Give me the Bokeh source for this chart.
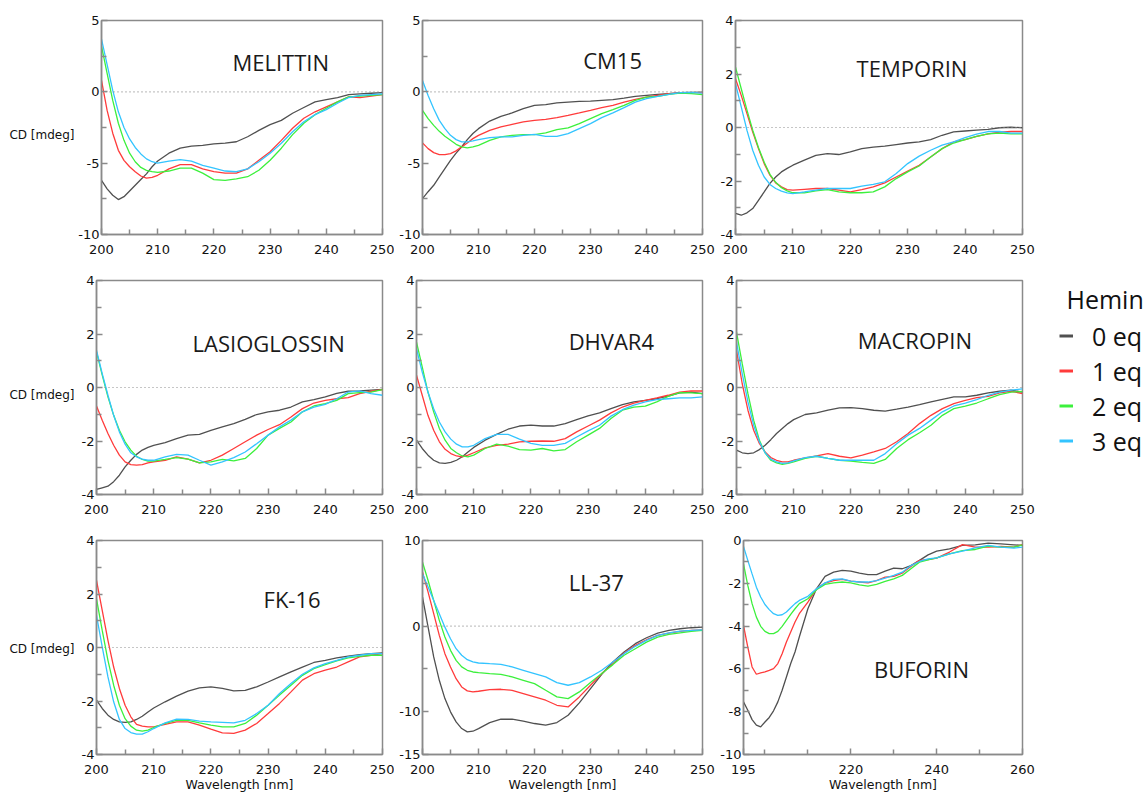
from bokeh.plotting import figure
from bokeh.models import FixedTicker, Span, Label, Legend, LegendItem, Range1d
from bokeh.layouts import row, column
from bokeh.embed import file_html
from bokeh.resources import INLINE

# ---------------- data ----------------
WL = [200, 201, 202, 203, 204, 205, 206, 207, 208, 209, 210, 212, 214, 216, 218, 220,
      222, 224, 226, 228, 230, 232, 234, 236, 238, 240, 242, 244, 246, 248, 250]
BUF_WL = [195, 196, 197, 198, 199, 200, 201, 202, 203, 204, 205, 206, 207, 208, 210, 212,
          214, 216, 218, 220, 222, 224, 226, 228, 230, 232, 234, 236, 238, 240, 243, 246,
          249, 252, 255, 258, 260]

HEMIN = ["0 eq", "1 eq", "2 eq", "3 eq"]

MEL_0 = [-6.2, -6.8, -7.25, -7.55, -7.35, -6.95, -6.55, -6.15, -5.75, -5.25, -4.85, -4.3, -3.95, -3.8, -3.75, -3.65,
         -3.6, -3.5, -3.15, -2.7, -2.3, -2.0, -1.5, -1.1, -0.7, -0.55, -0.4, -0.2, -0.15, -0.1, -0.05]
MEL_1 = [0.8, -1.3, -2.9, -4.1, -4.8, -5.25, -5.6, -5.9, -6.05, -6.0, -5.85, -5.4, -5.1, -5.1, -5.4, -5.6,
         -5.7, -5.7, -5.4, -4.8, -4.2, -3.4, -2.55, -1.85, -1.4, -1.05, -0.7, -0.35, -0.4, -0.3, -0.2]
MEL_2 = [3.2, 1.3, -0.6, -2.2, -3.4, -4.3, -4.9, -5.3, -5.5, -5.6, -5.65, -5.55, -5.35, -5.35, -5.7, -6.15,
         -6.2, -6.1, -5.95, -5.5, -4.8, -3.95, -3.0, -2.2, -1.6, -1.15, -0.7, -0.35, -0.3, -0.25, -0.2]
MEL_3 = [3.7, 1.9, 0.1, -1.4, -2.5, -3.3, -3.9, -4.35, -4.7, -4.9, -5.0, -4.85, -4.75, -4.85, -5.15, -5.35,
         -5.55, -5.6, -5.4, -4.9, -4.3, -3.6, -2.8, -2.1, -1.6, -1.25, -0.8, -0.4, -0.25, -0.2, -0.15]

CM_0 = [-7.48, -7.0, -6.55, -5.96, -5.38, -4.8, -4.3, -3.85, -3.35, -2.92, -2.58, -2.05, -1.72, -1.48, -1.18, -0.95,
        -0.9, -0.78, -0.72, -0.67, -0.65, -0.6, -0.55, -0.44, -0.32, -0.25, -0.18, -0.13, -0.06, -0.04, -0.02]
CM_1 = [-3.58, -3.98, -4.26, -4.4, -4.4, -4.33, -4.14, -3.86, -3.58, -3.28, -3.05, -2.7, -2.46, -2.28, -2.11, -2.0,
        -1.93, -1.81, -1.65, -1.48, -1.3, -1.11, -0.95, -0.72, -0.53, -0.37, -0.25, -0.13, -0.09, -0.06, -0.06]
CM_2 = [-1.3, -1.88, -2.35, -2.77, -3.12, -3.4, -3.68, -3.86, -3.93, -3.86, -3.75, -3.4, -3.16, -3.05, -3.0, -3.0,
        -2.88, -2.65, -2.53, -2.23, -1.88, -1.53, -1.25, -0.95, -0.6, -0.37, -0.32, -0.18, -0.09, -0.13, -0.2]
CM_3 = [0.8, -0.25, -1.18, -2.0, -2.58, -3.05, -3.35, -3.51, -3.51, -3.44, -3.35, -3.21, -3.16, -3.16, -3.05, -2.98,
        -3.12, -3.12, -2.93, -2.58, -2.23, -1.81, -1.48, -1.11, -0.72, -0.48, -0.32, -0.18, -0.06, -0.04, -0.09]

TEM_0 = [-3.21, -3.28, -3.19, -3.03, -2.72, -2.41, -2.09, -1.85, -1.66, -1.53, -1.41, -1.22, -1.04, -0.98, -1.01, -0.91,
         -0.79, -0.73, -0.7, -0.64, -0.58, -0.54, -0.45, -0.29, -0.16, -0.13, -0.1, -0.07, -0.01, 0.01, -0.01]
TEM_1 = [1.82, 1.2, 0.52, -0.17, -0.79, -1.35, -1.78, -2.07, -2.22, -2.32, -2.34, -2.31, -2.28, -2.28, -2.34, -2.41,
         -2.32, -2.22, -2.07, -1.85, -1.63, -1.41, -1.1, -0.79, -0.54, -0.45, -0.33, -0.24, -0.17, -0.15, -0.15]
TEM_2 = [2.26, 1.45, 0.65, -0.1, -0.75, -1.3, -1.75, -2.05, -2.25, -2.37, -2.44, -2.44, -2.37, -2.32, -2.41, -2.44,
         -2.44, -2.41, -2.22, -1.91, -1.66, -1.44, -1.1, -0.79, -0.58, -0.45, -0.33, -0.24, -0.21, -0.24, -0.24]
TEM_3 = [1.64, 0.77, -0.11, -0.85, -1.41, -1.85, -2.13, -2.28, -2.38, -2.44, -2.47, -2.41, -2.34, -2.28, -2.28, -2.28,
         -2.19, -2.13, -2.03, -1.72, -1.35, -1.07, -0.85, -0.66, -0.54, -0.38, -0.25, -0.15, -0.15, -0.21, -0.21]

LAS_0 = [-3.81, -3.75, -3.69, -3.52, -3.28, -2.97, -2.72, -2.5, -2.34, -2.24, -2.16, -2.06, -1.91, -1.78, -1.75, -1.6,
         -1.47, -1.35, -1.19, -1.01, -0.91, -0.85, -0.73, -0.54, -0.45, -0.35, -0.22, -0.14, -0.13, -0.1, -0.07]
LAS_1 = [-0.69, -1.22, -1.72, -2.16, -2.53, -2.78, -2.88, -2.9, -2.88, -2.82, -2.78, -2.72, -2.59, -2.68, -2.82, -2.72,
         -2.53, -2.28, -2.03, -1.78, -1.57, -1.39, -1.1, -0.79, -0.58, -0.48, -0.42, -0.38, -0.23, -0.14, -0.08]
LAS_2 = [1.33, 0.46, -0.35, -1.04, -1.6, -2.03, -2.34, -2.57, -2.69, -2.75, -2.75, -2.69, -2.62, -2.68, -2.82, -2.78,
         -2.69, -2.74, -2.65, -2.28, -1.78, -1.53, -1.29, -0.91, -0.69, -0.6, -0.48, -0.23, -0.19, -0.17, -0.08]
LAS_3 = [1.39, 0.52, -0.29, -1.04, -1.66, -2.12, -2.44, -2.59, -2.68, -2.72, -2.72, -2.59, -2.5, -2.53, -2.72, -2.9,
         -2.78, -2.62, -2.41, -2.1, -1.78, -1.47, -1.22, -0.91, -0.73, -0.63, -0.42, -0.17, -0.13, -0.23, -0.29]

DHV_0 = [-1.97, -2.28, -2.53, -2.72, -2.82, -2.84, -2.8, -2.72, -2.59, -2.41, -2.24, -1.97, -1.75, -1.56, -1.44, -1.41,
         -1.44, -1.44, -1.35, -1.2, -1.06, -0.95, -0.79, -0.64, -0.54, -0.48, -0.42, -0.32, -0.2, -0.17, -0.23]
DHV_1 = [0.46, -0.29, -1.04, -1.6, -2.03, -2.31, -2.47, -2.56, -2.59, -2.53, -2.44, -2.26, -2.16, -2.12, -2.03, -2.01,
         -2.0, -2.01, -1.91, -1.66, -1.44, -1.22, -0.95, -0.73, -0.58, -0.48, -0.39, -0.29, -0.17, -0.13, -0.13]
DHV_2 = [1.7, 0.77, -0.17, -0.91, -1.53, -1.97, -2.28, -2.44, -2.56, -2.59, -2.53, -2.28, -2.12, -2.19, -2.32, -2.34,
         -2.28, -2.37, -2.32, -2.03, -1.78, -1.53, -1.16, -0.85, -0.73, -0.7, -0.54, -0.33, -0.19, -0.2, -0.23]
DHV_3 = [1.45, 0.58, -0.17, -0.79, -1.29, -1.66, -1.93, -2.12, -2.22, -2.22, -2.16, -1.91, -1.75, -1.75, -1.93, -2.09,
         -2.16, -2.16, -2.09, -1.85, -1.62, -1.41, -1.07, -0.83, -0.66, -0.54, -0.45, -0.42, -0.39, -0.39, -0.35]

MAC_0 = [-2.34, -2.44, -2.47, -2.44, -2.32, -2.16, -1.95, -1.72, -1.53, -1.35, -1.2, -1.01, -0.95, -0.85, -0.76, -0.75,
         -0.79, -0.85, -0.88, -0.81, -0.73, -0.64, -0.54, -0.44, -0.35, -0.35, -0.29, -0.2, -0.14, -0.1, -0.17]
MAC_1 = [1.39, 0.14, -0.85, -1.6, -2.09, -2.41, -2.62, -2.72, -2.78, -2.78, -2.72, -2.63, -2.56, -2.47, -2.57, -2.63,
         -2.53, -2.41, -2.28, -2.03, -1.72, -1.35, -1.04, -0.79, -0.6, -0.48, -0.38, -0.33, -0.2, -0.14, -0.23]
MAC_2 = [2.07, 0.89, -0.23, -1.22, -1.97, -2.44, -2.72, -2.82, -2.87, -2.84, -2.78, -2.65, -2.57, -2.65, -2.72, -2.75,
         -2.8, -2.84, -2.69, -2.28, -1.95, -1.69, -1.41, -1.04, -0.79, -0.7, -0.58, -0.42, -0.27, -0.17, -0.15]
MAC_3 = [1.7, 0.52, -0.54, -1.41, -2.03, -2.44, -2.68, -2.78, -2.84, -2.82, -2.74, -2.62, -2.57, -2.65, -2.72, -2.72,
         -2.72, -2.72, -2.47, -2.1, -1.78, -1.53, -1.22, -0.91, -0.69, -0.58, -0.45, -0.29, -0.17, -0.1, -0.05]

FK_0 = [-1.97, -2.28, -2.53, -2.69, -2.78, -2.8, -2.78, -2.69, -2.57, -2.41, -2.26, -2.03, -1.82, -1.63, -1.51, -1.47,
        -1.53, -1.62, -1.6, -1.47, -1.29, -1.1, -0.91, -0.73, -0.56, -0.48, -0.39, -0.32, -0.27, -0.23, -0.2]
FK_1 = [2.51, 1.39, 0.27, -0.73, -1.53, -2.16, -2.59, -2.87, -2.94, -2.97, -2.97, -2.87, -2.78, -2.78, -2.9, -3.05,
        -3.19, -3.21, -3.09, -2.84, -2.47, -2.09, -1.66, -1.22, -0.98, -0.85, -0.73, -0.54, -0.35, -0.29, -0.23]
FK_2 = [1.82, 0.64, -0.48, -1.41, -2.16, -2.66, -2.94, -3.09, -3.13, -3.09, -2.99, -2.84, -2.72, -2.72, -2.82, -2.9,
        -2.97, -2.97, -2.84, -2.53, -2.16, -1.78, -1.41, -1.04, -0.79, -0.64, -0.5, -0.39, -0.33, -0.29, -0.29]
FK_3 = [1.2, 0.02, -1.1, -2.03, -2.69, -3.03, -3.18, -3.24, -3.24, -3.15, -3.03, -2.82, -2.68, -2.69, -2.75, -2.78,
        -2.8, -2.82, -2.72, -2.47, -2.16, -1.72, -1.35, -1.0, -0.76, -0.6, -0.48, -0.35, -0.29, -0.23, -0.23]

LL_0 = [3.39, -0.12, -3.6, -6.33, -8.47, -10.02, -11.19, -11.97, -12.36, -12.28, -11.97, -11.27, -10.88, -10.88, -11.11, -11.38,
        -11.58, -11.27, -10.41, -8.97, -7.3, -5.63, -4.19, -3.02, -2.05, -1.36, -0.82, -0.51, -0.31, -0.19, -0.12]
LL_1 = [6.31, 3.97, 1.45, -1.09, -3.22, -4.77, -6.14, -7.11, -7.57, -7.69, -7.61, -7.42, -7.38, -7.5, -7.88, -8.27,
        -8.66, -9.25, -9.44, -8.27, -6.91, -5.55, -4.39, -3.15, -2.25, -1.59, -1.08, -0.82, -0.62, -0.51, -0.43]
LL_2 = [7.47, 5.33, 3.0, 0.67, -1.28, -2.83, -4.0, -4.77, -5.16, -5.36, -5.44, -5.55, -5.63, -5.94, -6.33, -6.72,
        -7.5, -8.27, -8.47, -7.69, -6.6, -5.55, -4.5, -3.41, -2.64, -1.87, -1.28, -0.97, -0.78, -0.62, -0.51]
LL_3 = [6.11, 4.56, 3.0, 1.45, -0.12, -1.48, -2.64, -3.41, -3.92, -4.19, -4.31, -4.39, -4.46, -4.77, -5.16, -5.55,
        -5.94, -6.6, -6.91, -6.6, -5.94, -5.16, -4.19, -3.22, -2.36, -1.67, -1.09, -0.78, -0.58, -0.51, -0.43]

BUF_0 = [-7.54, -7.93, -8.37, -8.63, -8.71, -8.48, -8.27, -7.96, -7.54, -7.0, -6.38, -5.75, -5.21, -4.51, -3.19, -2.26,
         -1.68, -1.48, -1.4, -1.43, -1.52, -1.59, -1.59, -1.43, -1.29, -1.32, -1.17, -0.93, -0.67, -0.5, -0.39, -0.23,
         -0.2, -0.12, -0.16, -0.2, -0.23]
BUF_1 = [-3.97, -4.98, -5.91, -6.25, -6.19, -6.14, -6.07, -5.99, -5.75, -5.29, -4.74, -4.28, -3.81, -3.42, -2.88, -2.26,
         -1.99, -1.87, -1.82, -1.9, -1.94, -1.98, -1.87, -1.71, -1.68, -1.52, -1.21, -0.93, -0.89, -0.82, -0.54, -0.19,
         -0.31, -0.31, -0.28, -0.31, -0.19]
BUF_2 = [-1.09, -2.1, -2.95, -3.58, -4.01, -4.25, -4.35, -4.35, -4.25, -4.01, -3.73, -3.45, -3.19, -2.95, -2.72, -2.3,
         -2.05, -1.98, -1.94, -1.98, -2.07, -2.13, -2.05, -1.91, -1.79, -1.63, -1.32, -1.01, -0.9, -0.81, -0.62, -0.47,
         -0.42, -0.26, -0.31, -0.31, -0.2]
BUF_3 = [-0.28, -0.93, -1.56, -2.18, -2.64, -2.99, -3.23, -3.42, -3.5, -3.47, -3.34, -3.14, -2.95, -2.8, -2.61, -2.26,
         -1.98, -1.82, -1.79, -1.9, -1.94, -1.94, -1.87, -1.76, -1.63, -1.48, -1.17, -0.98, -0.86, -0.81, -0.62, -0.5,
         -0.34, -0.23, -0.31, -0.36, -0.31]

X_TICKS = [200, 210, 220, 230, 240, 250]
X_MINOR = [205, 215, 225, 235, 245]
BUF_X_TICKS = [195, 220, 240, 260]
BUF_X_MINOR = [200, 210, 230, 250]
Y5_TICKS = [-10, -5, 0, 5]
Y5_MINOR = [-7.5, -2.5, 2.5]
Y4_TICKS = [-4, -2, 0, 2, 4]
Y4_MINOR = [-3, -1, 1, 3]
LL_TICKS = [-15, -10, 0, 10]
LL_MINOR = [-5, 5]
BUF_Y_TICKS = [-10, -8, -6, -4, -2, 0]
BUF_Y_MINOR = [-9, -7, -5, -3, -1]

# ---------------- style ----------------
COLORS = ["#505050", "#ff3b3b", "#3cf03c", "#33c4ff"]
FRAME = "#8a8a8a"
TICK_FONT = "DejaVu Sans"
TITLE_FONT = "Open Sans"
LW = 74             # width of the y-label strip
ROW_H = [260, 260, 274]


def panel(name, wl, series, xr, yr, xt, xm, yt, ym, txy, w, lb, rb, h, bb, xlab=False):
    p = figure(x_range=Range1d(*xr), y_range=Range1d(*yr),
               width=w, height=h,
               min_border_left=lb, min_border_right=rb,
               min_border_top=20, min_border_bottom=bb,
               output_backend="svg", toolbar_location=None,
               background_fill_color="white", border_fill_color="white")
    p.xgrid.visible = False
    p.ygrid.visible = False
    p.outline_line_color = FRAME
    p.outline_line_width = 1.5
    p.add_layout(Span(location=0, dimension="width", line_color="#8c8c8c",
                      line_dash="1 3", line_width=1.2))
    for ys, c in zip(series, COLORS):
        p.line(wl, ys, line_color=c, line_width=1.3)

    p.xaxis.ticker = FixedTicker(ticks=xt, minor_ticks=xm)
    p.yaxis.ticker = FixedTicker(ticks=yt, minor_ticks=ym)
    p.yaxis.major_label_overrides = {t: "-%d" % abs(t) for t in yt if t < 0}
    for ax in (p.xaxis[0], p.yaxis[0]):
        ax.axis_line_color = FRAME
        ax.axis_line_width = 1.5
        ax.major_tick_line_color = FRAME
        ax.major_tick_line_width = 1.5
        ax.major_tick_in = 6
        ax.major_tick_out = 0
        ax.minor_tick_line_color = FRAME
        ax.minor_tick_line_width = 1.5
        ax.minor_tick_in = 5
        ax.minor_tick_out = 0
        ax.major_label_text_font = TICK_FONT
        ax.major_label_text_font_size = "13px"
        ax.major_label_text_color = "#111111"
    p.xaxis.major_label_standoff = 10
    p.yaxis.major_label_standoff = 2
    if xlab:
        p.xaxis.axis_label = "Wavelength [nm]"
        p.xaxis.axis_label_text_font = TICK_FONT
        p.xaxis.axis_label_text_font_size = "12.5px"
        p.xaxis.axis_label_text_font_style = "normal"
        p.xaxis.axis_label_text_color = "#111111"
        p.xaxis.axis_label_standoff = 0
    p.add_layout(Label(x=txy[0], y=txy[1], text=name, text_font=TITLE_FONT,
                       text_font_size="22px", text_color="#1a1a1a",
                       text_align="left", text_baseline="middle"))
    return p


def blank(w, h):
    f = figure(width=w, height=h, x_range=Range1d(0, w), y_range=Range1d(h, 0),
               min_border=0, min_border_left=0, min_border_right=0,
               min_border_top=0, min_border_bottom=0,
               output_backend="svg", toolbar_location=None,
               background_fill_color="white", border_fill_color="white")
    f.axis.visible = False
    f.xgrid.visible = False
    f.ygrid.visible = False
    f.outline_line_color = None
    return f


def ylabel_strip(h):
    f = blank(LW, h)
    f.add_layout(Label(x=LW, y=139, text="CD [mdeg]", text_font=TICK_FONT,
                       text_font_size="12px", text_color="#111111",
                       text_align="right", text_baseline="middle"))
    return f


X1 = (200, 250)
# row 1
p1 = panel("MELITTIN", WL, [MEL_0, MEL_1, MEL_2, MEL_3], X1, (-10, 5), X_TICKS, X_MINOR,
           Y5_TICKS, Y5_MINOR, (223.3, 2.1), 320, 27, 12, ROW_H[0], 26)
p2 = panel("CM15", WL, [CM_0, CM_1, CM_2, CM_3], X1, (-10, 5), X_TICKS, X_MINOR,
           Y5_TICKS, Y5_MINOR, (228.7, 2.2), 321, 28, 13, ROW_H[0], 26)
p3 = panel("TEMPORIN", WL, [TEM_0, TEM_1, TEM_2, TEM_3], X1, (-4, 4), X_TICKS, X_MINOR,
           Y4_TICKS, Y4_MINOR, (221.1, 2.24), 321, 20, 14, ROW_H[0], 26)
# row 2
p4 = panel("LASIOGLOSSIN", WL, [LAS_0, LAS_1, LAS_2, LAS_3], X1, (-4, 4), X_TICKS, X_MINOR,
           Y4_TICKS, Y4_MINOR, (216.8, 1.68), 320, 22, 12, ROW_H[1], 26)
p5 = panel("DHVAR4", WL, [DHV_0, DHV_1, DHV_2, DHV_3], X1, (-4, 4), X_TICKS, X_MINOR,
           Y4_TICKS, Y4_MINOR, (226.6, 1.72), 321, 22, 13, ROW_H[1], 26)
p6 = panel("MACROPIN", WL, [MAC_0, MAC_1, MAC_2, MAC_3], X1, (-4, 4), X_TICKS, X_MINOR,
           Y4_TICKS, Y4_MINOR, (221.2, 1.76), 321, 21, 14, ROW_H[1], 26)
# row 3
p7 = panel("FK-16", WL, [FK_0, FK_1, FK_2, FK_3], X1, (-4, 4), X_TICKS, X_MINOR,
           Y4_TICKS, Y4_MINOR, (229.2, 1.83), 320, 22, 12, ROW_H[2], 40, xlab=True)
p8 = panel("LL-37", WL, [LL_0, LL_1, LL_2, LL_3], X1, (-15, 10), X_TICKS, X_MINOR,
           LL_TICKS, LL_MINOR, (226.1, 5.1), 321, 28, 13, ROW_H[2], 40, xlab=True)
p9 = panel("BUFORIN", BUF_WL, [BUF_0, BUF_1, BUF_2, BUF_3], (195, 260), (-10, 0),
           BUF_X_TICKS, BUF_X_MINOR, BUF_Y_TICKS, BUF_Y_MINOR, (225.4, -6.0),
           321, 28, 14, ROW_H[2], 40, xlab=True)

# legend strip (Hemin equivalents) to the right of the middle row
LEG_W = 110
leg = blank(LEG_W, ROW_H[1])
leg.add_layout(Label(x=30, y=23, text="Hemin", text_font=TITLE_FONT,
                     text_font_size="25px", text_color="#111111",
                     text_align="left", text_baseline="middle"))
items = []
for ys, c, lab in zip([MAC_0, MAC_1, MAC_2, MAC_3], COLORS, HEMIN):
    # the strip's x range (0-110) lies outside the wavelengths, so only the key glyph shows
    r = leg.line(WL, ys, line_color=c, line_width=3)
    items.append(LegendItem(label=lab, renderers=[r]))
legend = Legend(items=items, location=(23, 36),
                label_text_font=TITLE_FONT, label_text_font_size="25px",
                label_text_color="#111111",
                glyph_width=14, glyph_height=35, label_height=35,
                label_standoff=19, spacing=0, padding=0, margin=0,
                border_line_color=None, background_fill_alpha=0)
leg.add_layout(legend)

layout = column(row(ylabel_strip(ROW_H[0]), p1, p2, p3),
                row(ylabel_strip(ROW_H[1]), p4, p5, p6, leg),
                row(ylabel_strip(ROW_H[2]), p7, p8, p9))

open("out.html", "w").write(file_html(layout, INLINE))
